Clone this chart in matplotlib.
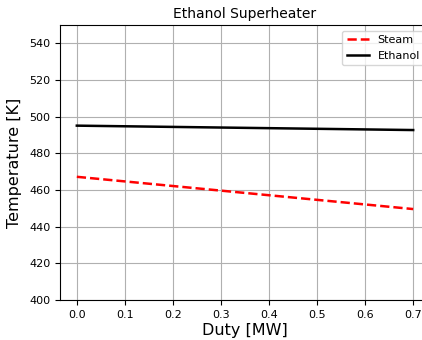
import matplotlib
matplotlib.use("Agg")
import matplotlib.pyplot as plt
import numpy as np

duty = [0.0, 0.7]
steam = [467.2, 449.6]
ethanol = [495.1, 492.7]

fig = plt.figure(figsize=(4.22, 3.40), dpi=100)
W, H = 422, 340
ax = fig.add_axes([60 / W, 1 - 300 / H, (430 - 60) / W, (300 - 25) / H])
ax.plot(duty, steam, color="red", linestyle="--", linewidth=1.8, label="Steam")
ax.plot(duty, ethanol, color="black", linewidth=1.8, label="Ethanol")
ax.set_ylim(400, 550)
ax.set_yticks(np.arange(400, 541, 20))
ax.set_xticks(np.arange(0, 0.71, 0.1))
ax.tick_params(labelsize=8)
ax.grid(True)
ax.set_title("Ethanol Superheater", fontsize=10, pad=5)
ax.set_xlabel("Duty [MW]", fontsize=11.5, labelpad=2)
ax.set_ylabel("Temperature [K]", fontsize=11.5, labelpad=5)
ax.legend(loc="upper right", fontsize=8)
fig.savefig("out.png", dpi=100)
